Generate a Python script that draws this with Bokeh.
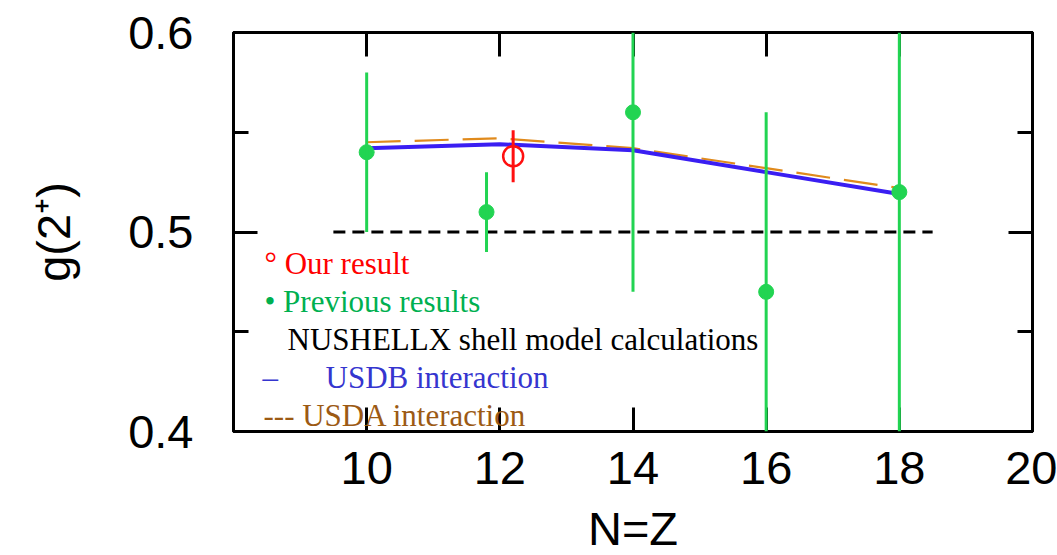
from bokeh.plotting import figure
from bokeh.models import (ColumnDataSource, LinearAxis, FixedTicker, Label,
                          Range1d, Whisker)
from bokeh.embed import file_html
from bokeh.resources import INLINE

# ---- data -------------------------------------------------------------
# this work
ours_nz = [12.2]
ours_g = [0.538]
ours_err = [0.013]

# earlier measurements
prev_nz = [10, 11.8, 14, 16, 18]
prev_g = [0.54, 0.51, 0.56, 0.47, 0.52]
prev_err = [0.04, 0.02, 0.09, 0.09, 0.13]

# NUSHELLX shell-model predictions
shell_nz = [10, 12, 14, 16, 18]
usdb_g = [0.542, 0.544, 0.541, 0.530, 0.519]
usda_g = [0.545, 0.547, 0.542, 0.532, 0.522]

# collective limit g = Z/A = 0.5
limit_nz = [9.5, 18.5]
limit_g = [0.5, 0.5]

x_ticks = [10, 12, 14, 16, 18, 20]
x_tick_labels = ["10", "12", "14", "16", "18", "20"]
y_ticks = [0.4, 0.5, 0.6]
y_minor_ticks = [0.45, 0.55]
y_tick_labels = ["0.4", "0.5", "0.6"]

G_MIN, G_MAX = 0.4, 0.6

# ---- styling ----------------------------------------------------------
SANS = "Liberation Sans"
SERIF = "Liberation Serif"
GREEN = "#22d452"
RED = "#ff1010"
BLUE = "#3a1ef2"
ORANGE = "#e08a1c"

p = figure(frame_width=799, frame_height=399,
           x_range=Range1d(8, 20), y_range=Range1d(G_MIN, G_MAX),
           x_axis_location=None, y_axis_location=None,
           min_border_left=233, min_border_right=25,
           min_border_top=32, min_border_bottom=124,
           output_backend="svg", toolbar_location=None)
p.grid.visible = False
p.outline_line_color = "black"
p.outline_line_width = 3
p.background_fill_color = "white"
p.border_fill_color = "white"


def make_axis(side, ticks, minor, labels, show_labels):
    ax = LinearAxis(ticker=FixedTicker(ticks=ticks, minor_ticks=minor))
    ax.axis_line_width = 3
    ax.major_tick_line_width = 3
    ax.minor_tick_line_width = 3
    ax.major_tick_in = 24
    ax.major_tick_out = 0
    ax.minor_tick_in = 15
    ax.minor_tick_out = 0
    if show_labels:
        ax.major_label_overrides = {t: s for t, s in zip(ticks, labels)}
        ax.major_label_text_font = SANS
        ax.major_label_text_font_size = "47px"
        ax.major_label_text_color = "black"
    else:
        ax.major_label_text_font_size = "0px"
        ax.major_label_text_color = None
        ax.major_label_standoff = 0
    p.add_layout(ax, side)
    return ax


bottom = make_axis("below", x_ticks, [], x_tick_labels, True)
bottom.major_label_standoff = 20
bottom.axis_label = "N=Z"
bottom.axis_label_text_font = SANS
bottom.axis_label_text_font_size = "47px"
bottom.axis_label_text_font_style = "normal"
bottom.axis_label_text_color = "black"
bottom.axis_label_standoff = 15

left = make_axis("left", y_ticks, y_minor_ticks, y_tick_labels, True)
left.major_label_standoff = 40
left.axis_label = "g(2\u207a)"
left.axis_label_text_font = SANS
left.axis_label_text_font_size = "47px"
left.axis_label_text_font_style = "normal"
left.axis_label_text_color = "black"
left.axis_label_standoff = 45

make_axis("above", x_ticks, [], x_tick_labels, False)
make_axis("right", y_ticks, y_minor_ticks, y_tick_labels, False)

# ---- glyphs -----------------------------------------------------------
model = ColumnDataSource(dict(nz=shell_nz, usdb=usdb_g, usda=usda_g))
p.line("nz", "usda", source=model, line_color=ORANGE, line_width=2.2,
       line_dash="34 14")
p.line("nz", "usdb", source=model, line_color=BLUE, line_width=4)


def bar_source(nz, g, err):
    # error bars are drawn only over the visible g range
    return ColumnDataSource(dict(
        nz=nz, g=g,
        lo=[max(v - e, G_MIN) for v, e in zip(g, err)],
        hi=[min(v + e, G_MAX) for v, e in zip(g, err)]))


prev = bar_source(prev_nz, prev_g, prev_err)
p.add_layout(Whisker(base="nz", lower="lo", upper="hi", source=prev,
                     dimension="height", line_color=GREEN, line_width=3,
                     lower_head=None, upper_head=None, level="overlay"))

p.line(limit_nz, limit_g, line_color="black", line_width=3, line_dash="12 7")

p.scatter("nz", "g", source=prev, size=15, fill_color=GREEN,
          line_color=GREEN, marker="circle")

ours = bar_source(ours_nz, ours_g, ours_err)
p.add_layout(Whisker(base="nz", lower="lo", upper="hi", source=ours,
                     dimension="height", line_color=RED, line_width=3,
                     lower_head=None, upper_head=None, level="glyph"))
p.scatter("nz", "g", source=ours, size=20, fill_color="white",
          line_color=RED, line_width=2.5, marker="circle")

# ---- key written inside the frame -------------------------------------
key = [
    ("\u00b0 Our result", 31, 168, "#ff0000"),
    ("\u2022 Previous results", 31, 130, "#00b050"),
    ("NUSHELLX shell model calculations", 54, 92, "black"),
    ("\u2013", 29, 54, "#3535cf"),
    ("USDB interaction", 92, 54, "#3535cf"),
    ("--- USDA interaction", 30, 16, "#9c5a14"),
]
for txt, x, y, col in key:
    p.add_layout(Label(x=x, y=y, x_units="screen", y_units="screen",
                       text=txt, text_font=SERIF, text_font_size="31px",
                       text_color=col, text_baseline="alphabetic"))

open("out.html", "w").write(file_html(p, INLINE))
